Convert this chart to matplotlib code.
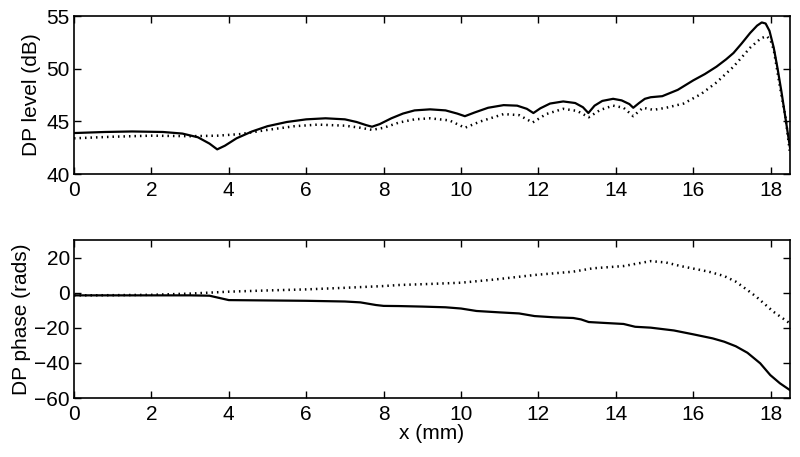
import matplotlib.pyplot as plt
import numpy as np

plt.rcParams['font.family'] = ['Liberation Sans', 'DejaVu Sans']

# DP level (dB) - solid and dotted curves
x_lvl_solid = [0, 0.8, 1.5, 2.3, 2.8, 3.2, 3.5, 3.7, 3.9, 4.2, 4.6, 5.0, 5.5, 6.0, 6.5, 7.0,
               7.3, 7.55, 7.7, 7.9, 8.2, 8.5, 8.8, 9.2, 9.6, 9.9, 10.1, 10.35, 10.7, 11.1, 11.45,
               11.7, 11.87, 12.05, 12.3, 12.64, 12.95, 13.15, 13.29, 13.45, 13.65, 13.93, 14.15,
               14.35, 14.45, 14.6, 14.75, 14.9, 15.2, 15.6, 16.0, 16.3, 16.6, 16.85, 17.04,
               17.25, 17.47, 17.65, 17.77, 17.87, 17.97, 18.08, 18.18, 18.28, 18.38, 18.5]
y_lvl_solid = [43.9, 44.0, 44.05, 44.0, 43.85, 43.5, 42.9, 42.35, 42.7, 43.4, 44.05, 44.55, 44.95,
               45.2, 45.3, 45.2, 44.95, 44.65, 44.5, 44.75, 45.3, 45.75, 46.05, 46.15, 46.05,
               45.75, 45.5, 45.85, 46.3, 46.55, 46.5, 46.2, 45.8, 46.25, 46.7, 46.9, 46.75,
               46.35, 45.8, 46.5, 46.95, 47.15, 47.0, 46.65, 46.3, 46.75, 47.15, 47.3, 47.4,
               48.0, 48.9, 49.5, 50.2, 50.9, 51.5, 52.4, 53.4, 54.1, 54.4, 54.3, 53.6, 52.0,
               50.0, 47.8, 45.4, 42.5]

x_lvl_dot = [0, 1.0, 2.0, 3.0, 3.7, 4.3, 5.0, 5.7, 6.3, 7.0, 7.4, 7.7, 8.0, 8.4, 8.8, 9.2,
             9.7, 10.1, 10.5, 11.1, 11.5, 11.85, 12.2, 12.64, 13.0, 13.3, 13.6, 13.93, 14.2,
             14.45, 14.7, 14.97, 15.3, 15.75, 16.2, 16.6, 17.04, 17.47, 17.75, 17.9, 18.0,
             18.08, 18.24, 18.38, 18.5]
y_lvl_dot = [43.4, 43.55, 43.65, 43.6, 43.65, 43.8, 44.2, 44.55, 44.7, 44.6, 44.4, 44.2, 44.4,
             44.9, 45.2, 45.3, 45.1, 44.4, 45.0, 45.7, 45.6, 44.9, 45.7, 46.2, 46.0, 45.4,
             46.1, 46.5, 46.3, 45.5, 46.3, 46.1, 46.3, 46.7, 47.6, 48.7, 50.2, 52.0, 52.9,
             53.1, 52.7, 51.8, 48.3, 45.5, 42.0]

# DP phase (rads)
x_ph_solid = [0, 1.0, 2.0, 3.0, 3.5, 3.8, 4.0, 5.0, 6.0, 7.0, 7.4, 7.8, 8.0, 8.4, 9.0, 9.6,
              10.0, 10.4, 11.0, 11.5, 11.9, 12.4, 12.9, 13.1, 13.3, 13.7, 14.2, 14.5, 14.9,
              15.5, 16.0, 16.5, 16.8, 17.1, 17.4, 17.73, 17.99, 18.24, 18.5]
y_ph_solid = [-1.5, -1.5, -1.5, -1.5, -1.7, -3.2, -4.2, -4.4, -4.6, -5.0, -5.5, -7.0, -7.5,
              -7.6, -7.9, -8.3, -9.0, -10.4, -11.2, -11.8, -13.3, -14.0, -14.4, -15.2, -16.7,
              -17.2, -17.8, -19.4, -19.9, -21.5, -23.7, -26.0, -27.9, -30.5, -34.2, -40.2,
              -46.9, -51.6, -55.5]

x_ph_dot = [0, 1.0, 2.0, 3.0, 4.0, 5.0, 6.0, 7.0, 8.0, 8.4, 9.2, 10.0, 10.9, 11.9, 12.9,
            13.4, 14.2, 14.9, 15.3, 15.67, 16.4, 16.8, 17.1, 17.4, 17.63, 18.07, 18.5]
y_ph_dot = [-1.5, -1.4, -1.2, -0.5, 0.6, 1.3, 1.9, 2.8, 3.8, 4.4, 5.0, 5.7, 7.6, 10.1, 12.0,
            13.9, 15.2, 18.0, 17.2, 15.2, 12.0, 9.5, 6.3, 1.5, -2.3, -10.8, -17.5]

fig = plt.figure(figsize=(8, 4.57), dpi=100)
ax1 = fig.add_axes([0.0925, 0.619, 0.895, 0.3457])
ax2 = fig.add_axes([0.0925, 0.129, 0.895, 0.3457])

dot_style = (0, (0.6, 1.6))

ax1.plot(x_lvl_solid, y_lvl_solid, color='black', lw=1.6)
ax1.plot(x_lvl_dot, y_lvl_dot, color='black', lw=1.8, linestyle=dot_style)
ax1.set_xlim(0, 18.5)
ax1.set_ylim(40, 55)
ax1.set_yticks([40, 45, 50, 55])
ax1.set_xticks(np.arange(0, 19, 2))
ax1.set_ylabel('DP level (dB)', fontsize=15, labelpad=4)

ax2.plot(x_ph_solid, y_ph_solid, color='black', lw=1.6)
ax2.plot(x_ph_dot, y_ph_dot, color='black', lw=1.8, linestyle=dot_style)
ax2.set_xlim(0, 18.5)
ax2.set_ylim(-60, 30)
ax2.set_yticks([-60, -40, -20, 0, 20])
ax2.set_yticklabels(['\u221260', '\u221240', '\u221220', '0', '20'])
ax2.set_xticks(np.arange(0, 19, 2))
ax2.set_ylabel('DP phase (rads)', fontsize=15, labelpad=2)
ax2.set_xlabel('x (mm)', fontsize=15, labelpad=0)

for ax in (ax1, ax2):
    ax.tick_params(direction='in', top=True, right=True, length=5, width=1,
                   labelsize=15)
    ax.tick_params(axis='x', pad=5)
    ax.tick_params(axis='y', pad=3)
    for s in ax.spines.values():
        s.set_linewidth(1.2)

plt.savefig('out.png', dpi=100)
